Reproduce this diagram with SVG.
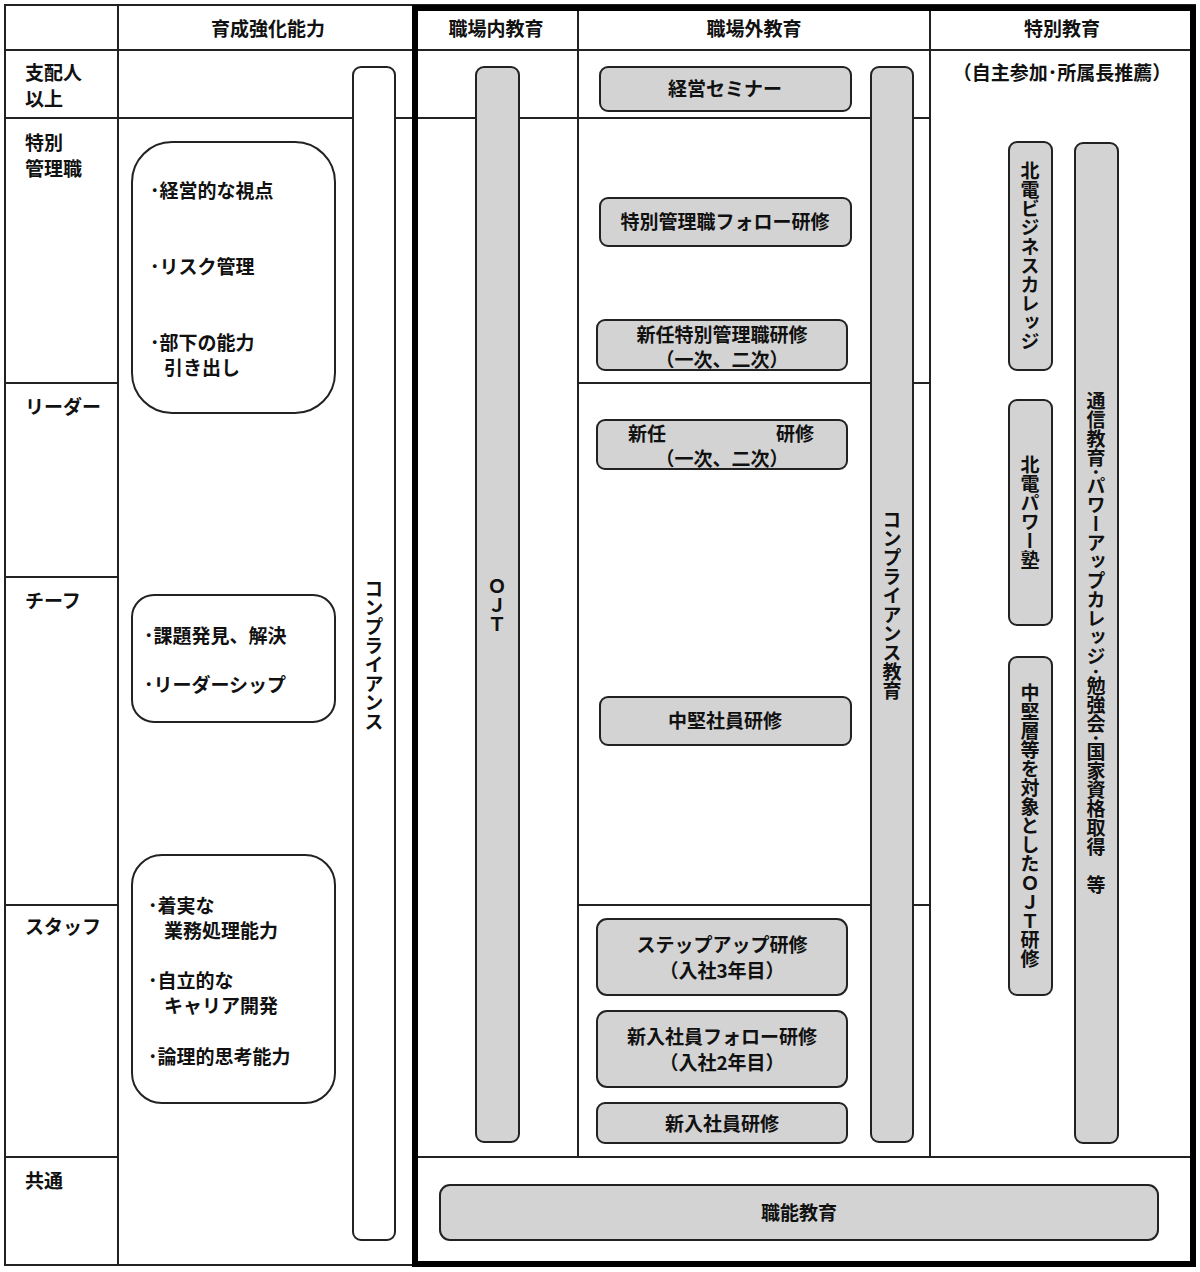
<svg xmlns="http://www.w3.org/2000/svg" width="1200" height="1272" viewBox="0 0 1200 1272">
<style>
text{font-family:"Noto Sans CJK JP","Noto Sans",sans-serif;font-size:19px;font-weight:bold;fill:#111}
.c{text-anchor:middle}
.v{writing-mode:vertical-rl;text-anchor:middle}
.g{fill:#d3d3d3;stroke:#222;stroke-width:2}
.w{fill:#fff;stroke:#222;stroke-width:2}
.ln{stroke:#222;stroke-width:2;fill:none}
</style>
<rect width="1200" height="1272" fill="#fff"/>
<g id="grid">
<rect x="5" y="5" width="1190" height="1260" class="ln"/>
<line x1="5" y1="50" x2="1195" y2="50" class="ln"/>
<line x1="118" y1="5" x2="118" y2="1265" class="ln"/>
<line x1="578" y1="5" x2="578" y2="1157" class="ln"/>
<line x1="930" y1="5" x2="930" y2="1157" class="ln"/>
<line x1="5" y1="118" x2="930" y2="118" class="ln"/>
<line x1="5" y1="383" x2="118" y2="383" class="ln"/>
<line x1="5" y1="577" x2="118" y2="577" class="ln"/>
<line x1="5" y1="905" x2="118" y2="905" class="ln"/>
<line x1="5" y1="1157" x2="118" y2="1157" class="ln"/>
<line x1="578" y1="383" x2="930" y2="383" class="ln"/>
<line x1="578" y1="905" x2="930" y2="905" class="ln"/>
<line x1="413" y1="1157" x2="1195" y2="1157" class="ln"/>
<rect x="415" y="8" width="778" height="1256" fill="none" stroke="#000" stroke-width="6"/>
</g>
<g id="headers">
<text x="268" y="36" class="c">育成強化能力</text>
<text x="496" y="36" class="c">職場内教育</text>
<text x="754" y="36" class="c">職場外教育</text>
<text x="1062" y="36" class="c">特別教育</text>
<text x="1062" y="80" class="c">（自主参加･所属長推薦）</text>
<text x="25" y="80">支配人</text><text x="25" y="106">以上</text>
<text x="25" y="150">特別</text><text x="25" y="176">管理職</text>
<text x="25" y="414">リーダー</text>
<text x="25" y="608">チーフ</text>
<text x="25" y="934">スタッフ</text>
<text x="25" y="1188">共通</text>
</g>
<g id="ability1"><rect x="132" y="142" width="203" height="271" rx="40" class="w"/>
<text x="150" y="198">･経営的な視点</text><text x="150" y="274">･リスク管理</text><text x="150" y="350">･部下の能力</text><text x="164" y="375">引き出し</text></g>
<g id="ability2"><rect x="132" y="595" width="203" height="127" rx="22" class="w"/>
<text x="144" y="643">･課題発見、解決</text><text x="144" y="692">･リーダーシップ</text></g>
<g id="ability3"><rect x="132" y="855" width="203" height="248" rx="30" class="w"/>
<text x="148" y="913">･着実な</text><text x="164" y="938">業務処理能力</text><text x="148" y="988">･自立的な</text><text x="164" y="1013">キャリア開発</text><text x="148" y="1064">･論理的思考能力</text></g>
<g id="compliance"><rect x="353" y="67" width="42" height="1173" rx="8" class="w"/><text x="374" y="655" class="v">コンプライアンス</text></g>
<g id="ojt"><rect x="476" y="67" width="43" height="1075" rx="8" class="g"/><text x="497" y="605" class="v">ＯＪＴ</text></g>
<g id="n1"><rect x="600" y="67" width="251" height="44" rx="8" class="g"/><text x="725" y="96" class="c">経営セミナー</text></g>
<g id="n2"><rect x="600" y="198" width="251" height="48" rx="8" class="g"/><text x="725" y="229" class="c">特別管理職フォロー研修</text></g>
<g id="n3"><rect x="597" y="320" width="250" height="50" rx="8" class="g"/><text x="722" y="342" class="c">新任特別管理職研修</text><text x="722" y="367" class="c">（一次、二次）</text></g>
<g id="n4"><rect x="597" y="420" width="250" height="49" rx="8" class="g"/><text x="628" y="441">新任</text><text x="776" y="441">研修</text><text x="722" y="466" class="c">（一次、二次）</text></g>
<g id="n5"><rect x="600" y="697" width="251" height="48" rx="8" class="g"/><text x="725" y="728" class="c">中堅社員研修</text></g>
<g id="n6"><rect x="597" y="919" width="250" height="76" rx="10" class="g"/><text x="722" y="952" class="c">ステップアップ研修</text><text x="722" y="978" class="c">（入社3年目）</text></g>
<g id="n7"><rect x="597" y="1011" width="250" height="76" rx="10" class="g"/><text x="722" y="1044" class="c">新入社員フォロー研修</text><text x="722" y="1070" class="c">（入社2年目）</text></g>
<g id="n8"><rect x="597" y="1103" width="250" height="40" rx="8" class="g"/><text x="722" y="1131" class="c">新入社員研修</text></g>
<g id="compEdu"><rect x="871" y="67" width="42" height="1075" rx="8" class="g"/><text x="892" y="605" class="v">コンプライアンス教育</text></g>
<g id="s1"><rect x="1009" y="142" width="43" height="228" rx="8" class="g"/><text x="1030" y="256" class="v">北電ビジネスカレッジ</text></g>
<g id="s2"><rect x="1009" y="400" width="43" height="225" rx="8" class="g"/><text x="1030" y="512" class="v">北電パワー塾</text></g>
<g id="s3"><rect x="1009" y="657" width="43" height="338" rx="8" class="g"/><text x="1030" y="826" class="v">中堅層等を対象としたＯＪＴ研修</text></g>
<g id="s4"><rect x="1075" y="143" width="43" height="1000" rx="8" class="g"/><text x="1096" y="643" class="v">通信教育･パワーアップカレッジ･勉強会･国家資格取得　等</text></g>
<g id="shokuno"><rect x="440" y="1185" width="718" height="55" rx="10" class="g"/><text x="799" y="1220" class="c">職能教育</text></g>
<g id="connectors"></g>
</svg>
